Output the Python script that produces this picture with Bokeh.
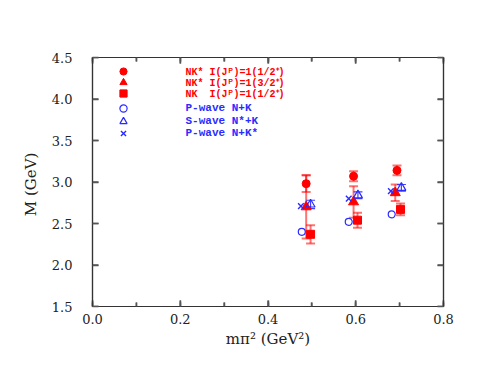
from bokeh.plotting import figure
from bokeh.models import (ColumnDataSource, Whisker, TeeHead, Legend, LegendItem, LinearAxis,
                          SingleIntervalTicker, Range1d, PrintfTickFormatter)
from bokeh.embed import file_html
from bokeh.resources import INLINE

# ---- data ----
x_nks12 = [0.487, 0.595, 0.694]
y_nks12 = [2.98, 3.07, 3.14]
e_nks12 = [0.10, 0.06, 0.06]

x_nks32 = [0.487, 0.595, 0.690]
y_nks32 = [2.70, 2.76, 2.87]
e_nks32 = [0.38, 0.19, 0.10]

x_nk12 = [0.497, 0.604, 0.702]
y_nk12 = [2.37, 2.54, 2.67]
e_nk12 = [0.11, 0.09, 0.07]

x_pnk = [0.477, 0.584, 0.682]
y_pnk = [2.40, 2.52, 2.61]

x_snsk = [0.497, 0.605, 0.704]
y_snsk = [2.73, 2.84, 2.93]
e_snsk = [0.05, 0.04, 0.04]

x_pnks = [0.475, 0.584, 0.680]
y_pnks = [2.71, 2.80, 2.89]

x_major = [0.0, 0.2, 0.4, 0.6, 0.8]
x_minor = [0.1, 0.3, 0.5, 0.7]
y_major = [1.5, 2.0, 2.5, 3.0, 3.5, 4.0, 4.5]

labels_red = ["NK* I(J\u1d3e)=1(1/2\u207a)", "NK* I(J\u1d3e)=1(3/2\u207a)", "NK  I(J\u1d3e)=1(1/2\u207a)"]
labels_blue = ["P-wave N+K", "S-wave N*+K", "P-wave N+K*"]

RED = "#ff0000"
BLUE = "#2b2bff"
FRAME = "#333333"
TICKC = "#555555"
TXT = "#222222"
TICKFONT = "DejaVu Serif"

X0, X1, Y0, Y1 = 0.0, 0.8, 1.5, 4.5
W, H = 491, 379
BL, BR, BT, BB = 92, 48, 57, 73
FW, FH = W - BL - BR, H - BT - BB

p = figure(width=W, height=H, output_backend="svg", toolbar_location=None,
           x_range=Range1d(X0, X1), y_range=Range1d(Y0, Y1),
           min_border_left=BL, min_border_right=BR, min_border_top=BT, min_border_bottom=BB)
p.background_fill_color = "white"
p.border_fill_color = "white"
p.outline_line_color = FRAME
p.outline_line_width = 1.2
p.xgrid.visible = False
p.ygrid.visible = False


def style(ax, minor=True, labels=True):
    ax.axis_line_color = FRAME
    ax.axis_line_width = 1.2
    ax.major_tick_line_color = TICKC
    ax.major_tick_line_width = 1.5
    ax.minor_tick_line_color = TICKC if minor else None
    ax.minor_tick_line_width = 1.5
    ax.major_tick_out = 0
    ax.major_tick_in = 6
    ax.minor_tick_out = 0
    ax.minor_tick_in = 4
    ax.major_label_text_font = TICKFONT
    ax.major_label_text_color = TXT if labels else None
    ax.major_label_text_font_size = "13px"
    ax.formatter = PrintfTickFormatter(format="%.1f")
    ax.axis_label_text_font = TICKFONT
    ax.axis_label_text_font_style = "normal"
    ax.axis_label_text_color = TXT
    ax.axis_label_text_font_size = "15px"


p.xaxis.ticker = SingleIntervalTicker(interval=0.2, num_minor_ticks=2)
p.yaxis.ticker = SingleIntervalTicker(interval=0.5, num_minor_ticks=0)
style(p.xaxis[0])
style(p.yaxis[0], minor=False)
p.xaxis.major_label_standoff = 7
p.yaxis.major_label_standoff = 20
p.xaxis.axis_label = "m\u03c0\u00b2 (GeV\u00b2)"
p.yaxis.axis_label = "M  (GeV)"
p.xaxis.axis_label_standoff = 3
p.yaxis.axis_label_standoff = 9

top = LinearAxis(ticker=SingleIntervalTicker(interval=0.2, num_minor_ticks=2))
style(top, labels=False)
p.add_layout(top, "above")
right = LinearAxis(ticker=SingleIntervalTicker(interval=0.5, num_minor_ticks=0))
style(right, minor=False, labels=False)
p.add_layout(right, "right")

# inward ticks also drawn as thin filled bars inside the frame (pixel sizes -> data units)
dx = (X1 - X0) / FW
dy = (Y1 - Y0) / FH
hw = 0.75
ql, qr, qb, qt = [], [], [], []
for vals, length in ((x_major, 6), (x_minor, 4)):
    for v in vals:
        ql += [v - hw * dx, v - hw * dx]; qr += [v + hw * dx, v + hw * dx]
        qb += [Y0, Y1 - length * dy]; qt += [Y0 + length * dy, Y1]
for v in y_major:
    qb += [v - hw * dy, v - hw * dy]; qt += [v + hw * dy, v + hw * dy]
    ql += [X0, X1 - 6 * dx]; qr += [X0 + 6 * dx, X1]
tick_src = ColumnDataSource(dict(left=ql, right=qr, bottom=qb, top=qt))
p.quad(left="left", right="right", bottom="bottom", top="top", source=tick_src,
       fill_color=TICKC, line_color=None)

# ---- error bars ----
def errbars(xs, ys, es, color, alpha, width):
    src = ColumnDataSource(dict(x=xs, lo=[y - e for y, e in zip(ys, es)],
                                hi=[y + e for y, e in zip(ys, es)]))
    w = Whisker(source=src, base="x", lower="lo", upper="hi", dimension="height",
                line_color=color, line_alpha=alpha, line_width=width,
                upper_head=TeeHead(size=9, line_color=color, line_alpha=alpha, line_width=width),
                lower_head=TeeHead(size=9, line_color=color, line_alpha=alpha, line_width=width))
    w.level = "underlay"
    p.add_layout(w)

errbars(x_nks32, y_nks32, e_nks32, RED, 0.55, 2)
errbars(x_nks12, y_nks12, e_nks12, RED, 0.55, 2)
errbars(x_nk12, y_nk12, e_nk12, RED, 0.55, 2)
errbars(x_snsk, y_snsk, e_snsk, BLUE, 0.9, 1.2)

# ---- markers ----
r1 = p.scatter(x_nks12, y_nks12, marker="circle", size=8, fill_color=RED, line_color=RED)
r2 = p.scatter(x_nks32, y_nks32, marker="triangle", size=10, fill_color=RED, line_color=RED)
r3 = p.scatter(x_nk12, y_nk12, marker="square", size=8, fill_color=RED, line_color=RED)
r4 = p.scatter(x_pnk, y_pnk, marker="circle", size=7, fill_color=None, line_color=BLUE, line_width=1.2)
r5 = p.scatter(x_snsk, y_snsk, marker="triangle", size=9, fill_color=None, line_color=BLUE, line_width=1.2)
r6 = p.scatter(x_pnks, y_pnks, marker="x", size=8, line_color=BLUE, line_width=1.4)

# ---- legend: one entry per legend box so each row can be placed exactly ----
GL = 18
row_centres = [71, 82, 93, 107.5, 120.5, 132.5]
entries = list(zip([r1, r2, r3, r4, r5, r6], labels_red + labels_blue,
                   [RED] * 3 + [BLUE] * 3, ["10px"] * 3 + ["11px"] * 3))
for (r, lbl, col, fs), c in zip(entries, row_centres):
    bottom = FH - (c - BT) - GL / 2
    lg = Legend(items=[LegendItem(label=lbl, renderers=[r])],
                location=(21.5, bottom), orientation="vertical",
                glyph_width=GL, glyph_height=GL, label_height=GL, label_standoff=54,
                spacing=0, padding=0, margin=0,
                border_line_color=None, background_fill_alpha=0,
                label_text_font="Liberation Mono", label_text_font_style="bold",
                label_text_font_size=fs, label_text_color=col)
    p.add_layout(lg, "center")

open("out.html", "w").write(file_html(p, INLINE))
